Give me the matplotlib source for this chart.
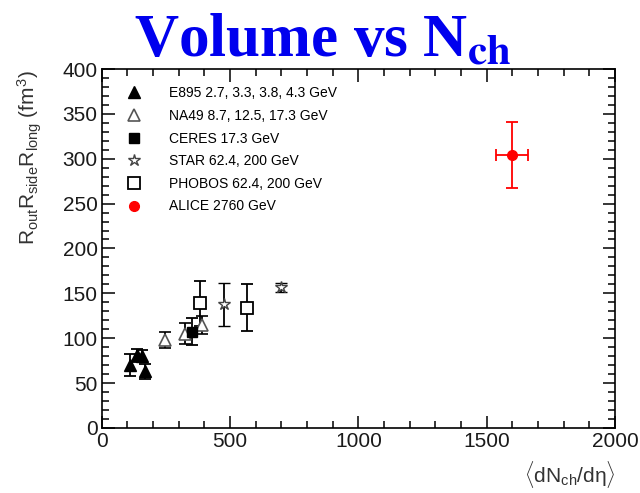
#!/usr/bin/env python3
"""
HBT volume vs charged-particle multiplicity
Generates: out.png
"""
import matplotlib
matplotlib.use('Agg')
import matplotlib.pyplot as plt
from matplotlib.ticker import MultipleLocator
from matplotlib.lines import Line2D

plt.rcParams['font.family'] = ['Liberation Sans', 'DejaVu Sans']
plt.rcParams['mathtext.fontset'] = 'custom'
plt.rcParams['mathtext.rm'] = 'Liberation Sans'
plt.rcParams['mathtext.it'] = 'Liberation Sans:italic'
plt.rcParams['mathtext.bf'] = 'Liberation Sans:bold'

# dN/deta, volume (fm^3), volume error
e895_x = [110, 136, 156, 169]
e895_y = [70, 81, 80, 63]
e895_err = [12, 7, 7, 8]

na49_x = [246, 324, 389]
na49_y = [98, 105, 115]
na49_err = [9, 12, 10]

ceres_x = [350]
ceres_y = [107]
ceres_err = [15]

star_x = [476, 698]
star_y = [138, 157]
star_err = [24, 5]

phobos_x = [382, 564]
phobos_y = [139, 134]
phobos_err = [25, 26]

alice_x = [1600]
alice_y = [304]
alice_xerr = [62]
alice_yerr = [37]

labels = ['E895 2.7, 3.3, 3.8, 4.3 GeV', 'NA49 8.7, 12.5, 17.3 GeV',
          'CERES 17.3 GeV', 'STAR 62.4, 200 GeV',
          'PHOBOS 62.4, 200 GeV', 'ALICE 2760 GeV']

fig = plt.figure(figsize=(6.4, 4.93), dpi=100)
ax = fig.add_axes([0.159, 0.132, 0.802, 0.728])

eb = dict(ls='none', ecolor='black', elinewidth=1.3, capsize=4, capthick=1.3)
ax.errorbar(e895_x, e895_y, yerr=e895_err, marker='^', ms=8,
            mfc='black', mec='black', **eb)
ax.errorbar(na49_x, na49_y, yerr=na49_err, marker='^', ms=8,
            mfc='white', mec='#555555', mew=1.2, **eb)
ax.errorbar(ceres_x, ceres_y, yerr=ceres_err, marker='s', ms=7,
            mfc='black', mec='black', **eb)
ax.errorbar(star_x, star_y, yerr=star_err, marker='*', ms=9,
            mfc='white', mec='#444444', mew=1.0, **eb)
ax.errorbar(phobos_x, phobos_y, yerr=phobos_err, marker='s', ms=9,
            mfc='white', mec='black', mew=1.3, **eb)
ax.errorbar(alice_x, alice_y, xerr=alice_xerr, yerr=alice_yerr, marker='o',
            ms=7, mfc='red', mec='red', ls='none', ecolor='red',
            elinewidth=1.3, capsize=4, capthick=1.3)

handles = [
    Line2D([], [], ls='none', marker='^', ms=8, mfc='black', mec='black'),
    Line2D([], [], ls='none', marker='^', ms=8, mfc='white', mec='#555555', mew=1.2),
    Line2D([], [], ls='none', marker='s', ms=7, mfc='black', mec='black'),
    Line2D([], [], ls='none', marker='*', ms=9, mfc='white', mec='#444444'),
    Line2D([], [], ls='none', marker='s', ms=9, mfc='white', mec='black', mew=1.3),
    Line2D([], [], ls='none', marker='o', ms=7, mfc='red', mec='red'),
]
ax.legend(handles, labels, loc='upper left', bbox_to_anchor=(0.025, 0.975),
          frameon=False, fontsize=10, handletextpad=1.75, labelspacing=0.62,
          borderaxespad=0.0, borderpad=0.6, handlelength=1.6)

ax.set_xlim(0, 2000)
ax.set_ylim(0, 400)
ax.xaxis.set_major_locator(MultipleLocator(500))
ax.xaxis.set_minor_locator(MultipleLocator(100))
ax.yaxis.set_major_locator(MultipleLocator(50))
ax.yaxis.set_minor_locator(MultipleLocator(10))
ax.tick_params(which='both', direction='in', top=True, right=True,
               labelsize=15, labelcolor='#1a1a1a', width=1.1)
ax.tick_params(which='major', length=9, pad=3)
ax.tick_params(which='minor', length=5)
for spine in ax.spines.values():
    spine.set_linewidth(1.2)

ax.set_ylabel(r'R$_{\mathrm{out}}$R$_{\mathrm{side}}$R$_{\mathrm{long}}$ (fm$^{3}$)',
              fontsize=15, color='#333333', loc='top')
ax.yaxis.set_label_coords(-0.112, 0.995)
ax.set_xlabel(r'$\langle$dN$_{\mathrm{ch}}$/dη$\rangle$',
              fontsize=15, color='#333333', loc='right', labelpad=6)

fig.text(0.505, 0.885, r'Volume vs N$_{\mathbf{ch}}$', color='#0000ee',
         fontsize=44, fontweight='bold', family='Liberation Serif',
         math_fontfamily='stix', ha='center', va='baseline')

plt.savefig('out.png', dpi=100, facecolor='white')
